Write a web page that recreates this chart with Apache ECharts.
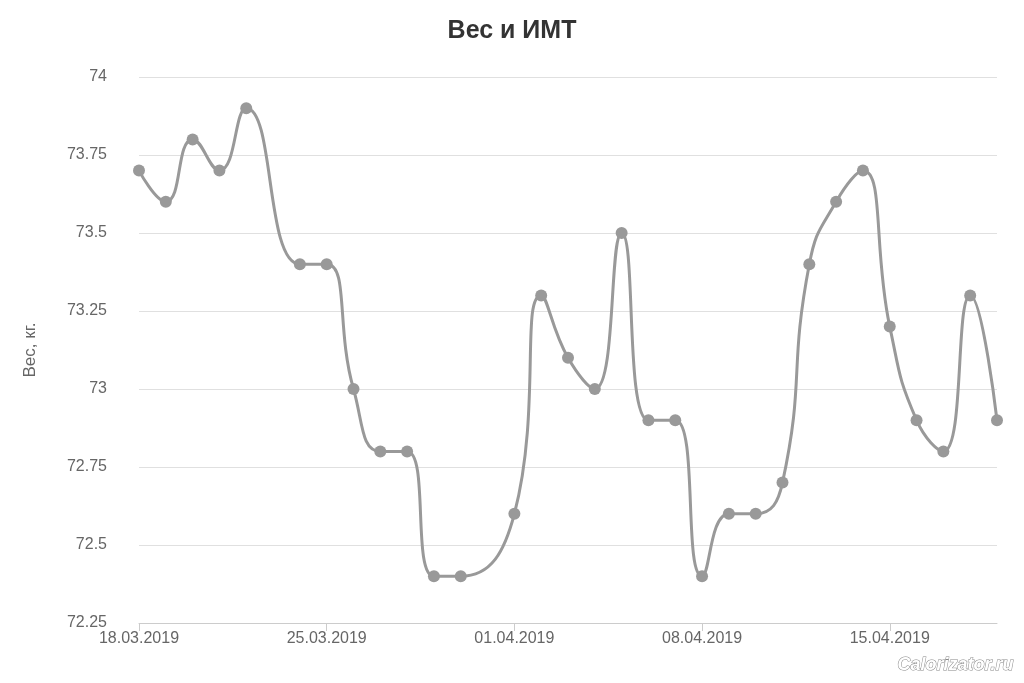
<!DOCTYPE html><html><head><meta charset="utf-8"><script src="https://cdn.jsdelivr.net/npm/echarts@6/dist/echarts.min.js"></script></head><body style="margin:0"><div id="c" style="width:1024px;height:683px"></div><script>
const categories=['18.03.2019','19.03.2019','20.03.2019','21.03.2019','22.03.2019','23.03.2019','24.03.2019','25.03.2019','26.03.2019','27.03.2019','28.03.2019','29.03.2019','30.03.2019','31.03.2019','01.04.2019','02.04.2019','03.04.2019','04.04.2019','05.04.2019','06.04.2019','07.04.2019','08.04.2019','09.04.2019','10.04.2019','11.04.2019','12.04.2019','13.04.2019','14.04.2019','15.04.2019','16.04.2019','17.04.2019','18.04.2019','19.04.2019'];
const weight=[73.7,73.6,73.8,73.7,73.9,null,73.4,73.4,73.0,72.8,72.8,72.4,72.4,null,72.6,73.3,73.1,73.0,73.5,72.9,72.9,72.4,72.6,72.6,72.7,73.4,73.6,73.7,73.2,72.9,72.8,73.3,72.9];
const yTicks=[72.25,72.5,72.75,73,73.25,73.5,73.75,74];
const F='Liberation Sans';
const c=echarts.init(document.getElementById('c'));
c.setOption({
title:{text:'Вес и ИМТ',left:'center',top:14,textStyle:{fontFamily:F,fontSize:25,fontWeight:'bold',color:'#333'}},
grid:{left:139,right:27,top:77,bottom:60},
xAxis:{type:'category',data:categories,boundaryGap:false,
 axisLine:{lineStyle:{color:'#ccc'}},axisTick:{interval:6,alignWithLabel:true,lineStyle:{color:'#ccc'},length:8},
 axisLabel:{interval:6,color:'#666',fontSize:16,fontFamily:F},splitLine:{show:false}},
yAxis:{type:'value',min:72.25,max:74,interval:0.25,name:'Вес, кг.',nameLocation:'middle',nameGap:100,
 nameTextStyle:{color:'#666',fontSize:17,fontFamily:F},
 axisLabel:{color:'#666',fontSize:16,fontFamily:F,margin:32,formatter:v=>String(+v.toFixed(2))},
 splitLine:{lineStyle:{color:'#e0e0e0'}},axisLine:{show:false},axisTick:{show:false}},
series:[{type:'line',data:weight,smooth:0.5,connectNulls:true,symbol:'circle',symbolSize:12,
 lineStyle:{color:'#999',width:3},itemStyle:{color:'#999'}}],
graphic:[{type:'text',right:10,bottom:8,style:{text:'Calorizator.ru',fontSize:18,fontStyle:'italic',fontWeight:'bold',fill:'#fff',stroke:'#888',lineWidth:1,fontFamily:F}}]
});
</script></body></html>
